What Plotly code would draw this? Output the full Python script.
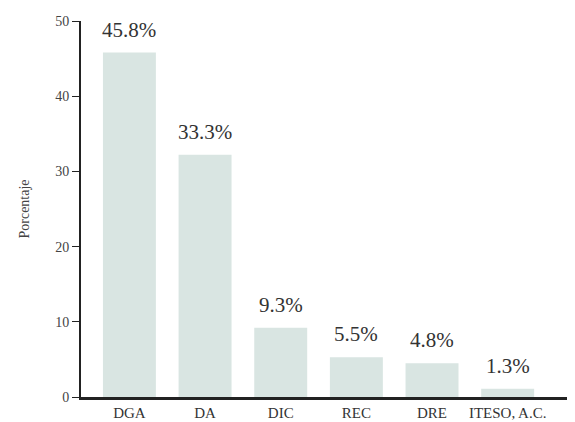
import plotly.graph_objects as go

categories = ["DGA", "DA", "DIC", "REC", "DRE", "ITESO, A.C."]
bar_values = [45.8, 32.2, 9.2, 5.3, 4.5, 1.1]
bar_labels = ["45.8%", "33.3%", "9.3%", "5.5%", "4.8%", "1.3%"]
y_ticks = [0, 10, 20, 30, 40, 50]

FONT = "Times New Roman"

fig = go.Figure()
fig.add_trace(go.Bar(
    x=categories, y=bar_values, width=0.7,
    marker=dict(color="#d9e5e2", line=dict(width=0)),
    hoverinfo="skip",
))

for c, v, t in zip(categories, bar_values, bar_labels):
    fig.add_annotation(x=c, y=v, text=t, showarrow=False, yanchor="bottom",
                       yshift=9, font=dict(family=FONT, size=21, color="#333333"))

fig.update_layout(
    width=567, height=414,
    margin=dict(l=73, r=0, t=13, b=25),
    paper_bgcolor="white", plot_bgcolor="white",
    showlegend=False,
    font=dict(family=FONT, color="#333333"),
    xaxis=dict(
        range=[-0.64, 5.89], showgrid=False, zeroline=False,
        showline=True, linecolor="#222222", linewidth=3,
        ticks="", tickfont=dict(family=FONT, size=15, color="#333333"),
    ),
    yaxis=dict(
        range=[0, 50], tickvals=y_ticks, showgrid=False, zeroline=False,
        showline=True, linecolor="#222222", linewidth=2,
        ticks="outside", ticklen=7, tickwidth=1, tickcolor="#222222",
        tickfont=dict(family=FONT, size=14, color="#444444"),
        title=dict(text="Porcentaje", standoff=22, font=dict(family=FONT, size=14, color="#444444")),
    ),
)

fig.write_html("out.html")
